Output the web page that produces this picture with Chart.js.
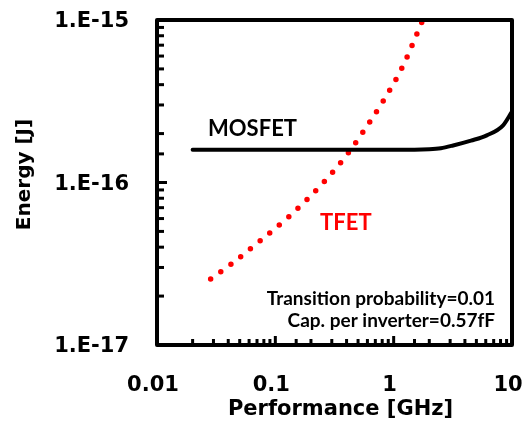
<!DOCTYPE html>
<html>
<head>
<meta charset="utf-8">
<script src="https://cdn.jsdelivr.net/npm/chart.js@4/dist/chart.umd.min.js"></script>
<style>
  html, body { margin: 0; padding: 0; background: #fff; }
  #wrap { width: 529px; height: 430px; position: relative; }
</style>
</head>
<body>
<div id="wrap"><canvas id="myChart"></canvas></div>
<script>
// values (GHz, J)
const mosfetFreq   = [0.02, 0.5, 1, 1.5, 2, 2.5, 3.18, 4.5, 6.12, 8.41, 10];
const mosfetEnergy = [1.59e-16, 1.59e-16, 1.59e-16, 1.59e-16, 1.60e-16, 1.625e-16, 1.69e-16, 1.81e-16, 1.95e-16, 2.25e-16, 2.73e-16];

const tfetFreq   = [0.0284, 0.0425, 0.0757, 0.132, 0.189, 0.265, 0.422, 0.640, 0.834, 1.19, 1.76];
const tfetEnergy = [2.55e-17, 3.15e-17, 4.42e-17, 6.22e-17, 7.97e-17, 1.03e-16, 1.55e-16, 2.41e-16, 3.26e-16, 5.16e-16, 1.0e-15];

const xTickLabels = [0.01, 0.1, 1, 10];
const yTickLabels = [1e-17, 1e-16, 1e-15];

const xTitle = 'Performance [GHz]';
const yTitle = 'Energy [J]';
const notes = ['Transition probability=0.01', 'Cap. per inverter=0.57fF'];

const AXIS_FONT = 'DejaVu Sans';
const NOTE_FONT = 'Lato';

function isDecade(v) {
    const e = Math.round(Math.log10(v));
    return Math.abs(v / Math.pow(10, e) - 1) < 1e-6;
}

function toPoints(xs, ys) {
    return xs.map((x, i) => ({ x: x, y: ys[i] }));
}

function noPad(scale) {
    scale.paddingTop = 0;
    scale.paddingBottom = 0;
    scale.paddingLeft = 0;
    scale.paddingRight = 0;
}

// frame, inward ticks, titles and the text inside the plot
const frameAndLabels = {
    id: 'frameAndLabels',
    afterDraw(chart) {
        const ctx = chart.ctx;
        const a = chart.chartArea;
        const xs = chart.scales.x;
        const ys = chart.scales.y;
        ctx.save();
        ctx.strokeStyle = '#000';
        ctx.lineCap = 'butt';
        ctx.lineWidth = 3;
        xs.ticks.forEach(t => {
            const px = xs.getPixelForValue(t.value);
            const len = isDecade(t.value) ? 9 : 6;
            ctx.beginPath();
            ctx.moveTo(px, a.bottom);
            ctx.lineTo(px, a.bottom - len);
            ctx.stroke();
        });
        ys.ticks.forEach(t => {
            const py = ys.getPixelForValue(t.value);
            const len = isDecade(t.value) ? 10 : 7;
            ctx.beginPath();
            ctx.moveTo(a.left, py);
            ctx.lineTo(a.left + len, py);
            ctx.stroke();
        });
        ctx.lineWidth = 4;
        ctx.lineJoin = 'round';
        ctx.strokeRect(a.left, a.top, a.right - a.left, a.bottom - a.top);

        ctx.fillStyle = '#000';
        ctx.textBaseline = 'alphabetic';

        // axis titles
        ctx.textAlign = 'center';
        ctx.font = 'bold 21px ' + AXIS_FONT;
        ctx.fillText(xTitle, (a.left + a.right) / 2 + 6, 415);
        ctx.save();
        ctx.translate(30, (a.top + a.bottom) / 2 - 8);
        ctx.rotate(-Math.PI / 2);
        ctx.font = 'bold 20px ' + AXIS_FONT;
        ctx.fillText(yTitle, 0, 0);
        ctx.restore();

        // series names
        ctx.textAlign = 'left';
        ctx.font = 'bold 22px ' + NOTE_FONT;
        ctx.fillText('MOSFET', xs.getPixelForValue(0.027), ys.getPixelForValue(1.94e-16));
        ctx.fillStyle = '#ff0000';
        ctx.fillText('TFET', xs.getPixelForValue(0.239), ys.getPixelForValue(5.1e-17));

        // notes
        ctx.textAlign = 'right';
        ctx.fillStyle = '#000';
        ctx.font = 'bold 19px ' + NOTE_FONT;
        ctx.fillText(notes[0], a.right - 17, a.bottom - 40);
        ctx.fillText(notes[1], a.right - 17, a.bottom - 18);
        ctx.restore();
    }
};

const ctx = document.getElementById('myChart').getContext('2d');
new Chart(ctx, {
    type: 'line',
    data: {
        datasets: [{
            label: 'MOSFET',
            data: toPoints(mosfetFreq, mosfetEnergy),
            borderColor: '#000',
            borderWidth: 4,
            borderCapStyle: 'round',
            pointRadius: 0,
            cubicInterpolationMode: 'monotone',
            fill: false
        }, {
            label: 'TFET',
            data: toPoints(tfetFreq, tfetEnergy),
            borderColor: '#ff0000',
            borderWidth: 5.5,
            borderCapStyle: 'round',
            borderDash: [0, 12.5],
            pointRadius: 0,
            cubicInterpolationMode: 'monotone',
            fill: false
        }]
    },
    options: {
        responsive: true,
        maintainAspectRatio: false,
        animation: false,
        layout: { padding: { top: 20, right: 17, left: 0, bottom: 0 } },
        plugins: {
            legend: { display: false },
            tooltip: { enabled: false }
        },
        scales: {
            x: {
                type: 'logarithmic',
                min: 0.01,
                max: 10,
                grid: { display: false, drawTicks: false },
                border: { display: false },
                ticks: {
                    autoSkip: false,
                    maxRotation: 0,
                    padding: 28,
                    labelOffset: -4,
                    color: '#000',
                    font: { family: AXIS_FONT, size: 21, weight: 'bold' },
                    callback: function(v) {
                        return xTickLabels.some(l => Math.abs(l - v) / l < 1e-6) ? String(v) : '';
                    }
                },
                afterFit: function(scale) { scale.height = 85; noPad(scale); }
            },
            y: {
                type: 'logarithmic',
                min: 1e-17,
                max: 1e-15,
                grid: { display: false, drawTicks: false },
                border: { display: false },
                ticks: {
                    autoSkip: false,
                    padding: 28,
                    labelOffset: 2,
                    color: '#000',
                    font: { family: AXIS_FONT, size: 21, weight: 'bold' },
                    callback: function(v) {
                        if (!yTickLabels.some(l => Math.abs(l - v) / l < 1e-6)) return '';
                        return '1.E-' + (-Math.round(Math.log10(v)));
                    }
                },
                afterFit: function(scale) { scale.width = 157; noPad(scale); }
            }
        }
    },
    plugins: [frameAndLabels]
});
</script>
</body>
</html>
